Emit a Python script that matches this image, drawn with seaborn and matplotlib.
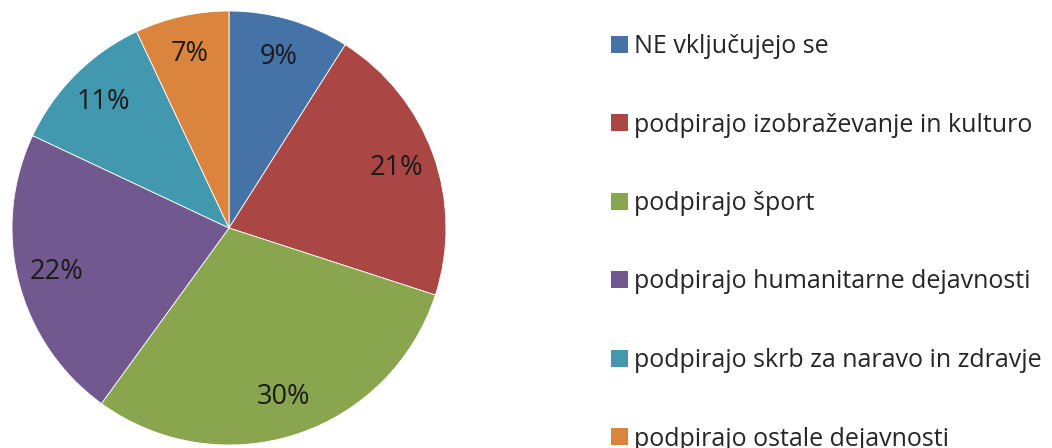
import matplotlib
matplotlib.use("Agg")
import matplotlib.pyplot as plt
import seaborn as sns
from matplotlib.patches import Patch

categories = [
    "NE vključujejo se",
    "podpirajo izobraževanje in kulturo",
    "podpirajo šport",
    "podpirajo humanitarne dejavnosti",
    "podpirajo skrb za naravo in zdravje",
    "podpirajo ostale dejavnosti",
]
values = [9, 21, 30, 22, 11, 7]
colors = ["#4572A7", "#AA4643", "#89A54E", "#71588F", "#4198AF", "#DB843D"]

sns.set_theme(style="white")
plt.rcParams["font.family"] = ["Open Sans", "DejaVu Sans"]
palette = sns.color_palette(colors)

W, H = 1052, 448
fig = plt.figure(figsize=(W / 100, H / 100), dpi=100)
fig.patch.set_facecolor("white")

cx, cy, r = 229, 228, 217
ax = fig.add_axes([(cx - r) / W, (H - cy - r) / H, 2 * r / W, 2 * r / H])
wedges, texts, autotexts = ax.pie(
    values,
    colors=palette,
    startangle=90,
    counterclock=False,
    radius=1,
    autopct=lambda p: f"{p:.0f}%",
    pctdistance=0.82,
    wedgeprops=dict(edgecolor="white", linewidth=0.6),
    textprops=dict(fontsize=19.5, color="#1a1a1a"),
)
ax.set_xlim(-1, 1)
ax.set_ylim(-1, 1)
ax.set_aspect("equal")
ax.axis("off")

handles = [Patch(facecolor=c, edgecolor="none") for c in palette]
fig.legend(
    handles,
    categories,
    loc="upper left",
    bbox_to_anchor=(611 / W, 1 - 34 / H),
    borderaxespad=0,
    borderpad=0,
    frameon=False,
    fontsize=18,
    handlelength=0.68,
    handleheight=0.68,
    handletextpad=0.26,
    labelspacing=2.14,
)

fig.savefig("out.png", dpi=100)
